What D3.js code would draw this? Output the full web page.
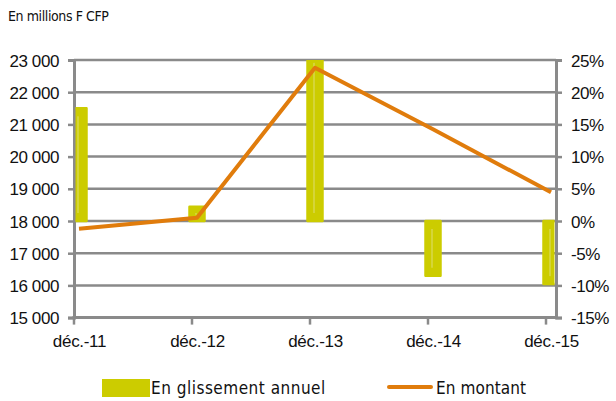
<!DOCTYPE html>
<html>
<head>
<meta charset="utf-8">
<script src="https://cdn.jsdelivr.net/npm/d3@7"></script>
<style>
  body { margin: 0; background: #fff; }
  svg { display: block; font-family: "DejaVu Sans Condensed", "DejaVu Sans", sans-serif; }
</style>
</head>
<body>
<svg id="chart" width="616" height="401"></svg>
<script>
// data
const categories = ['déc.-11', 'déc.-12', 'déc.-13', 'déc.-14', 'déc.-15'];
const glissement = [17.5, 2.2, 25.8, -8.5, -9.8];        // % (right axis)
const montant = [17760, 18100, 22760, 20850, 18890];     // millions F CFP (left axis)
const leftTicks = [15000, 16000, 17000, 18000, 19000, 20000, 21000, 22000, 23000];
const rightTicks = [-15, -10, -5, 0, 5, 10, 15, 20, 25];

const svg = d3.select('#chart');

let plotLeft = 74,
    plotRight = 556,
    plotTop = 60,
    plotBottom = 317.6,
    grey = '#8a8a8a',
    barColor = '#cccc00',
    lineColor = '#e07c0c';

const x = d3.scalePoint()
  .domain(categories)
  .range([plotLeft + 5, plotRight - 5]);

const yLeft = d3.scaleLinear()
  .domain([15000, 23000])
  .range([plotBottom, plotTop]);

const yRight = d3.scaleLinear()
  .domain([-15, 25])
  .range([plotBottom, plotTop]);

const fmtThousands = d3.format(',');

// title
svg.append('text')
  .attr('x', 8)
  .attr('y', 21)
  .style('font-size', '14px')
  .style('letter-spacing', '-0.4px')
  .attr('fill', '#111')
  .text('En millions F CFP');

svg.append('defs').append('clipPath')
  .attr('id', 'plot')
  .append('rect')
  .attr('x', plotLeft + 1.5).attr('y', plotTop)
  .attr('width', plotRight - plotLeft - 3).attr('height', plotBottom - plotTop);

// grid lines
svg.append('g')
  .selectAll('line')
  .data(leftTicks)
  .join('line')
    .attr('x1', plotLeft).attr('x2', plotRight)
    .attr('y1', d => yLeft(d)).attr('y2', d => yLeft(d))
    .attr('stroke', grey)
    .attr('stroke-width', 2.5);

// left axis
const gLeft = svg.append('g')
  .attr('transform', 'translate(' + plotLeft + ',0)')
  .call(d3.axisLeft(yLeft).tickValues(leftTicks).tickSize(6).tickPadding(9)
    .tickFormat(d => fmtThousands(d).replace(',', ' ')));

// right axis
const gRight = svg.append('g')
  .attr('transform', 'translate(' + plotRight + ',0)')
  .call(d3.axisRight(yRight).tickValues(rightTicks).tickSize(6).tickPadding(9)
    .tickFormat(d => d + '%'));

[gLeft, gRight].forEach(g => {
  g.select('.domain').attr('stroke', grey).attr('stroke-width', 3);
  g.selectAll('.tick line').attr('stroke', grey).attr('stroke-width', 2.5);
  g.selectAll('text')
    .style('font-size', '17px')
    .style('letter-spacing', '-0.4px')
    .attr('fill', '#111')
    .attr('dy', '0.36em');
});

// bars
const barW = 15;
const bars = svg.append('g').attr('clip-path', 'url(#plot)');
bars.selectAll('rect')
  .data(glissement)
  .join('rect')
    .attr('x', (d, i) => x(categories[i]) - barW / 2)
    .attr('y', d => yRight(Math.max(0, d)))
    .attr('width', barW)
    .attr('height', d => Math.abs(yRight(d) - yRight(0)))
    .attr('fill', barColor)
    .attr('stroke', barColor)
    .attr('stroke-width', 2.5)
    .attr('stroke-linejoin', 'round');

// light highlight in the middle of each bar
bars.selectAll('line')
  .data(glissement)
  .join('line')
    .attr('x1', (d, i) => x(categories[i]) - 1)
    .attr('x2', (d, i) => x(categories[i]) - 1)
    .attr('y1', d => yRight(Math.max(0, d)) + 8)
    .attr('y2', d => yRight(Math.min(0, d)) - 8)
    .attr('stroke', '#dede70')
    .attr('stroke-width', 1);

// bottom axis
svg.append('line')
  .attr('x1', plotLeft - 1.5).attr('x2', plotRight + 1.5)
  .attr('y1', plotBottom).attr('y2', plotBottom)
  .attr('stroke', grey)
  .attr('stroke-width', 3);

svg.append('g')
  .selectAll('line')
  .data(categories)
  .join('line')
    .attr('x1', d => x(d) - 5).attr('x2', d => x(d) - 5)
    .attr('y1', plotBottom).attr('y2', plotBottom + 7)
    .attr('stroke', grey)
    .attr('stroke-width', 2.5);

const gBottom = svg.append('g')
  .attr('transform', 'translate(0,' + plotBottom + ')')
  .call(d3.axisBottom(x).tickSize(0).tickPadding(17));
gBottom.select('.domain').remove();
gBottom.selectAll('text')
  .style('font-size', '17px')
  .style('letter-spacing', '-0.3px')
  .attr('fill', '#111');

// line
const linePath = d3.line()
  .x((d, i) => x(categories[i]))
  .y(d => yLeft(d));

svg.append('path')
  .datum(montant)
  .attr('fill', 'none')
  .attr('stroke', lineColor)
  .attr('stroke-width', 4)
  .attr('stroke-linejoin', 'round')
  .attr('d', linePath);

// legend
const legend = svg.append('g').style('font-size', '17px').attr('fill', '#111');

legend.append('rect')
  .attr('x', 102).attr('y', 379)
  .attr('width', 48).attr('height', 18)
  .attr('fill', barColor);
legend.append('text')
  .attr('x', 151).attr('y', 394)
  .style('letter-spacing', '0.5px')
  .text('En glissement annuel');

legend.append('line')
  .attr('x1', 389).attr('x2', 431)
  .attr('y1', 387).attr('y2', 387)
  .attr('stroke', lineColor)
  .attr('stroke-width', 4)
  .attr('stroke-linecap', 'round');
legend.append('text')
  .attr('x', 436).attr('y', 394)
  .style('letter-spacing', '0.1px')
  .text('En montant');
</script>
</body>
</html>
